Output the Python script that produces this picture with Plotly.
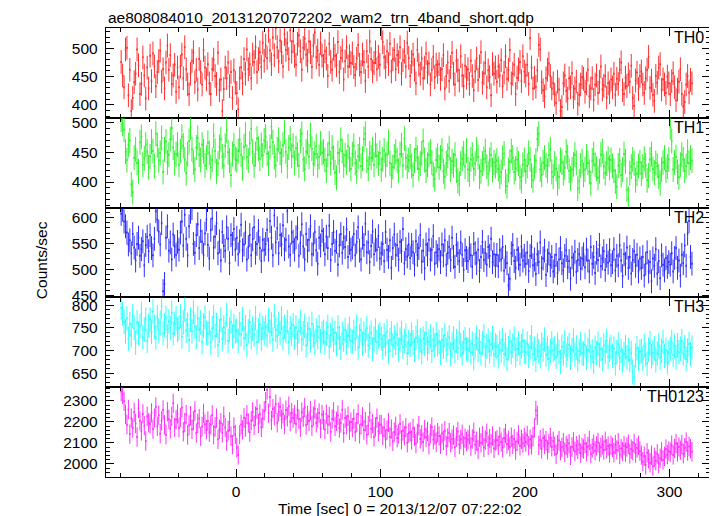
import numpy as np
import plotly.graph_objects as go

TITLE = "ae808084010_20131207072202_wam2_trn_4band_short.qdp"
X_TITLE = "Time [sec] 0 = 2013/12/07 07:22:02"
Y_TITLE = "Counts/sec"

T_START = -79.5   # centre of first bin (sec)
BIN = 1.0         # bin width (sec)

band_names = ["TH0", "TH1", "TH2", "TH3", "TH0123"]
band_colors = ["#ff0000", "#00f000", "#0000ff", "#00ffff", "#ff00ff"]
band_errors = [21, 21, 23, 27, 46]
y_ranges = [[377, 536], [357, 508], [446, 619], [619, 817], [1938, 2365]]
y_dticks = [50, 50, 50, 50, 100]
y_minor = [10, 10, 10, 10, 20]

th0 = [
    476, 452, 431, 498, 501, 417, 462, 389, 412, 440, 455, 498, 470, 419, 437, 484, 452, 411, 466, 429,
    487, 442, 491, 468, 433, 458, 477, 496, 441, 463, 429, 475, 505, 462, 488, 437, 452, 471, 423, 466,
    431, 468, 489, 447, 502, 463, 436, 419, 455, 478, 493, 440, 462, 427, 481, 458, 436, 497, 466, 445,
    472, 438, 419, 463, 480, 451, 437, 492, 426, 445, 389, 428, 466, 447, 475, 433, 458, 412, 461, 439,
    421, 392, 447, 466, 438, 481, 455, 498, 463, 472, 447, 489, 476, 502, 458, 481, 493, 467, 510, 478,
    505, 483, 531, 496, 472, 519, 488, 536, 502, 477, 514, 493, 468, 525, 497, 509, 481, 532, 494, 512,
    486, 471, 508, 523, 495, 462, 501, 517, 489, 478, 512, 493, 467, 505, 528, 484, 496, 471, 509, 487,
    469, 495, 482, 451, 508, 476, 462, 499, 487, 470, 511, 458, 483, 496, 445, 477, 502, 468, 486, 474,
    491, 467, 453, 482, 506, 471, 458, 489, 476, 442, 495, 468, 512, 481, 459, 474, 493, 463, 485, 471,
    536, 511, 484, 467, 495, 472, 508, 459, 481, 497, 463, 488, 476, 502, 455, 479, 494, 468, 510, 483,
    451, 476, 489, 462, 438, 497, 471, 455, 482, 447, 466, 491, 458, 473, 436, 462, 485, 449, 471, 458,
    472, 446, 463, 488, 429, 451, 475, 442, 467, 492, 455, 436, 478, 461, 443, 486, 452, 433, 469, 448,
    463, 437, 478, 451, 426, 459, 482, 444, 468, 493, 439, 456, 474, 431, 461, 449, 417, 472, 455, 466,
    441, 468, 452, 479, 433, 457, 486, 446, 462, 497, 438, 455, 471, 419, 448, 463, 476, 442, 486, 459,
    452, 471, 437, 518, 466, 429, 448, 432, 461, 506, 498, 440, 426, 415, 447, 462, 473, 451, 429, 438,
    418, 403, 441, 427, 389, 396, 438, 452, 425, 411, 447, 431, 456, 414, 429, 441, 402, 418, 436, 449,
    446, 423, 438, 462, 415, 429, 447, 409, 436, 452, 421, 441, 468, 427, 434, 451, 413, 438, 422, 445,
    431, 455, 418, 446, 437, 462, 475, 426, 419, 448, 433, 454, 441, 469, 412, 398, 443, 457, 428, 451,
    459, 436, 421, 447, 462, 485, 430, 443, 418, 407, 451, 439, 466, 472, 427, 445, 436, 421, 450, 438,
    419, 442, 456, 431, 408, 427, 441, 463, 419, 397, 405, 436, 451, 422, 444, 438,
]

th1 = [
    505, 498, 488, 451, 437, 462, 470, 396, 383, 441, 455, 432, 418, 467, 476, 429, 440, 463, 451, 425,
    443, 468, 452, 427, 481, 462, 436, 449, 474, 417, 455, 468, 433, 446, 472, 491, 458, 432, 447, 463,
    429, 452, 476, 461, 438, 415, 447, 469, 492, 455, 433, 421, 458, 474, 446, 437, 463, 452, 428, 441,
    466, 449, 425, 437, 478, 452, 418, 431, 459, 472, 443, 428, 461, 487, 450, 436, 412, 447, 462, 439,
    437, 452, 471, 446, 423, 459, 480, 442, 436, 465, 489, 451, 428, 447, 473, 456, 439, 462, 445, 470,
    476, 448, 431, 459, 493, 467, 442, 428, 455, 471, 449, 436, 462, 484, 451, 427, 458, 473, 444, 461,
    432, 457, 446, 428, 469, 481, 438, 422, 451, 466, 443, 479, 456, 431, 447, 460, 428, 442, 465, 449,
    451, 437, 419, 446, 465, 432, 458, 441, 416, 407, 449, 436, 471, 452, 428, 445, 433, 460, 438, 422,
    447, 461, 432, 418, 443, 455, 427, 439, 472, 481, 436, 422, 448, 441, 455, 429, 462, 444, 431, 449,
    421, 438, 453, 429, 446, 467, 432, 411, 425, 443, 451, 436, 419, 447, 462, 428, 473, 441, 426, 437,
    443, 427, 412, 436, 455, 441, 422, 431, 448, 469, 437, 419, 429, 446, 451, 433, 412, 405, 437, 444,
    425, 441, 453, 418, 409, 432, 444, 457, 421, 435, 428, 446, 419, 402, 397, 431, 439, 448, 426, 453,
    421, 413, 438, 446, 422, 431, 455, 442, 409, 418, 431, 439, 452, 426, 414, 437, 446, 420, 433, 427,
    436, 422, 409, 417, 441, 448, 401, 393, 420, 434, 452, 441, 417, 423, 438, 431, 408, 402, 429, 437,
    418, 427, 449, 438, 411, 403, 425, 436, 472, 481, 421, 412, 433, 441, 428, 419, 446, 455, 417, 409,
    431, 422, 398, 409, 437, 433, 415, 424, 451, 442, 419, 406, 421, 430, 446, 432, 389, 401, 428, 435,
    412, 421, 443, 432, 417, 398, 436, 447, 429, 422, 407, 418, 446, 452, 426, 415, 431, 439, 424, 437,
    427, 419, 401, 392, 428, 436, 412, 421, 447, 435, 387, 372, 415, 426, 438, 431, 403, 414, 427, 433,
    414, 426, 439, 428, 403, 411, 438, 447, 422, 416, 432, 427, 409, 398, 421, 433, 441, 419, 426, 438,
    492, 469, 421, 433, 442, 417, 408, 429, 446, 438, 419, 427, 451, 432, 441, 436,
]

th2 = [
    607, 615, 592, 583, 571, 548, 556, 531, 568, 542, 517, 549, 561, 526, 539, 554, 508, 547, 563, 535,
    566, 541, 527, 559, 612, 596, 573, 548, 589, 458, 472, 561, 583, 536, 552, 519, 567, 544, 528, 553,
    538, 571, 592, 546, 605, 559, 527, 583, 611, 618, 549, 532, 566, 587, 541, 574, 553, 528, 569, 596,
    547, 521, 576, 598, 542, 563, 589, 531, 554, 517, 572, 545, 536, 581, 559, 512, 566, 549, 578, 538,
    561, 529, 554, 586, 537, 548, 571, 519, 543, 566, 527, 558, 581, 532, 549, 574, 541, 516, 557, 538,
    549, 576, 538, 593, 561, 527, 604, 552, 579, 531, 566, 548, 585, 539, 557, 612, 544, 528, 571, 553,
    538, 562, 579, 526, 551, 587, 544, 519, 568, 536, 557, 583, 529, 548, 572, 537, 511, 561, 546, 574,
    557, 529, 563, 541, 584, 518, 549, 572, 536, 553, 509, 546, 568, 532, 561, 543, 577, 524, 551, 538,
    542, 568, 527, 553, 581, 536, 519, 561, 547, 588, 533, 552, 514, 545, 573, 529, 556, 538, 564, 521,
    531, 549, 516, 572, 538, 524, 556, 503, 541, 567, 528, 547, 519, 553, 536, 578, 512, 539, 525, 548,
    522, 547, 533, 509, 554, 528, 541, 566, 515, 536, 502, 548, 529, 557, 519, 538, 564, 511, 533, 526,
    539, 514, 548, 527, 556, 509, 532, 543, 518, 561, 524, 505, 547, 531, 516, 552, 528, 499, 537, 522,
    516, 541, 527, 505, 549, 531, 512, 538, 497, 524, 553, 518, 532, 509, 543, 526, 559, 514, 529, 507,
    528, 506, 537, 519, 543, 498, 524, 512, 469, 482, 531, 547, 516, 503, 538, 521, 509, 544, 517, 526,
    511, 532, 497, 526, 543, 508, 519, 491, 529, 514, 552, 503, 521, 536, 489, 517, 531, 508, 524, 496,
    507, 528, 493, 519, 541, 512, 498, 526, 537, 504, 516, 482, 523, 509, 534, 495, 518, 529, 502, 521,
    529, 504, 538, 517, 496, 543, 511, 524, 493, 532, 518, 547, 506, 521, 535, 499, 526, 513, 537, 508,
    514, 539, 498, 526, 508, 546, 517, 487, 529, 511, 542, 503, 524, 492, 518, 535, 507, 528, 496, 521,
    503, 524, 488, 511, 533, 496, 514, 477, 521, 507, 539, 492, 516, 483, 527, 509, 498, 522, 505, 514,
    509, 531, 496, 522, 541, 503, 517, 488, 528, 512, 546, 507, 569, 593, 524, 511,
]

th3 = [
    794, 781, 763, 742, 771, 726, 758, 735, 776, 749, 717, 762, 738, 753, 781, 729, 746, 768, 721, 755,
    768, 741, 786, 752, 729, 773, 744, 761, 797, 738, 756, 772, 731, 764, 749, 783, 737, 759, 771, 745,
    749, 776, 731, 762, 791, 744, 757, 723, 768, 742, 785, 753, 729, 771, 746, 762, 718, 755, 773, 739,
    737, 761, 718, 749, 774, 732, 756, 712, 743, 768, 725, 751, 739, 779, 721, 746, 763, 731, 754, 742,
    744, 721, 758, 736, 769, 727, 751, 712, 742, 763, 729, 748, 735, 771, 718, 744, 757, 726, 749, 738,
    752, 733, 767, 741, 758, 724, 776, 745, 731, 759, 739, 771, 727, 752, 743, 763, 718, 749, 737, 756,
    728, 751, 716, 743, 762, 725, 738, 754, 711, 736, 748, 722, 759, 733, 717, 744, 729, 752, 721, 738,
    741, 718, 737, 752, 709, 734, 746, 723, 739, 714, 751, 728, 706, 737, 724, 745, 718, 733, 748, 721,
    719, 741, 726, 753, 706, 732, 745, 715, 737, 722, 749, 711, 728, 739, 703, 726, 744, 718, 731, 736,
    726, 708, 733, 714, 742, 697, 723, 738, 711, 729, 717, 735, 702, 724, 739, 708, 721, 733, 694, 718,
    712, 735, 718, 701, 728, 742, 707, 723, 696, 726, 715, 738, 704, 719, 731, 699, 724, 711, 736, 714,
    719, 695, 723, 708, 734, 702, 715, 729, 692, 713, 727, 698, 721, 706, 739, 711, 694, 718, 725, 703,
    702, 723, 696, 715, 683, 712, 728, 701, 719, 694, 716, 731, 689, 709, 722, 698, 713, 727, 691, 711,
    708, 687, 717, 700, 723, 692, 712, 681, 705, 719, 696, 711, 726, 689, 703, 716, 694, 709, 721, 698,
    696, 715, 688, 707, 729, 693, 704, 680, 711, 698, 687, 713, 702, 724, 691, 706, 682, 699, 716, 701,
    705, 686, 713, 697, 675, 708, 693, 718, 689, 704, 712, 684, 701, 722, 691, 707, 679, 698, 714, 694,
    693, 712, 684, 701, 720, 687, 698, 675, 706, 694, 715, 689, 703, 681, 711, 697, 722, 686, 702, 708,
    688, 704, 671, 696, 713, 683, 699, 678, 692, 707, 685, 701, 679, 694, 652, 641, 689, 705, 682, 697,
    699, 682, 710, 691, 671, 702, 716, 687, 695, 705, 678, 693, 711, 684, 699, 719, 688, 701, 674, 696,
    703, 718, 690, 709, 685, 712, 696, 704, 721, 693, 707, 681, 699, 714, 692, 706,
]

th0123 = [
    2345, 2331, 2298, 2236, 2187, 2259, 2142, 2218, 2171, 2246, 2193, 2128, 2264, 2205, 2157, 2238, 2182, 2109, 2227, 2196,
    2191, 2243, 2166, 2218, 2271, 2179, 2232, 2144, 2205, 2257, 2186, 2139, 2248, 2213, 2167, 2226, 2289, 2174, 2211, 2238,
    2172, 2221, 2268, 2153, 2197, 2235, 2138, 2184, 2229, 2165, 2206, 2252, 2147, 2193, 2216, 2131, 2178, 2241, 2189, 2163,
    2204, 2151, 2186, 2233, 2139, 2176, 2218, 2117, 2165, 2196, 2148, 2227, 2173, 2109, 2158, 2201, 2132, 2092, 2176, 2141,
    2078, 2043, 2139, 2188, 2162, 2219, 2176, 2234, 2195, 2151, 2206, 2248, 2183, 2227, 2261, 2192, 2238, 2174, 2216, 2253,
    2296, 2352, 2241, 2318, 2207, 2263, 2229, 2284, 2196, 2247, 2271, 2213, 2239, 2188, 2256, 2224, 2275, 2201, 2243, 2218,
    2235, 2191, 2258, 2213, 2174, 2246, 2222, 2268, 2185, 2231, 2204, 2253, 2179, 2227, 2261, 2196, 2219, 2242, 2168, 2235,
    2209, 2164, 2237, 2188, 2226, 2153, 2214, 2248, 2179, 2203, 2232, 2171, 2195, 2258, 2147, 2218, 2186, 2227, 2161, 2199,
    2173, 2215, 2152, 2196, 2237, 2143, 2188, 2224, 2161, 2201, 2139, 2183, 2245, 2168, 2192, 2129, 2176, 2218, 2154, 2187,
    2188, 2136, 2172, 2119, 2161, 2197, 2128, 2166, 2108, 2152, 2179, 2124, 2143, 2191, 2115, 2158, 2134, 2173, 2101, 2147,
    2152, 2114, 2169, 2131, 2097, 2146, 2182, 2119, 2138, 2104, 2163, 2127, 2155, 2091, 2143, 2176, 2116, 2138, 2102, 2149,
    2133, 2094, 2145, 2112, 2158, 2086, 2124, 2149, 2101, 2118, 2137, 2079, 2128, 2154, 2093, 2116, 2141, 2087, 2122, 2107,
    2116, 2138, 2083, 2119, 2151, 2092, 2108, 2069, 2127, 2101, 2134, 2078, 2113, 2146, 2089, 2121, 2097, 2132, 2074, 2109,
    2114, 2088, 2131, 2104, 2079, 2124, 2145, 2095, 2112, 2081, 2128, 2093, 2119, 2066, 2107, 2138, 2086, 2117, 2099, 2126,
    2104, 2136, 2087, 2118, 2092, 2129, 2172, 2254, 2231, 2089, 2115, 2071, 2124, 2093, 2111, 2067, 2098, 2126, 2082, 2108,
    2084, 2046, 2092, 2111, 2063, 2079, 2102, 2055, 2088, 2074, 2097, 2041, 2081, 2106, 2059, 2087, 2069, 2093, 2052, 2078,
    2071, 2097, 2058, 2083, 2112, 2049, 2076, 2094, 2063, 2086, 2102, 2057, 2079, 2091, 2066, 2108, 2072, 2085, 2053, 2089,
    2079, 2054, 2092, 2066, 2101, 2045, 2073, 2059, 2087, 2056, 2081, 2094, 2048, 2071, 2063, 2098, 2052, 2076, 2089, 2061,
    2042, 2011, 2037, 1996, 2053, 2024, 2006, 2041, 1989, 2032, 2015, 2048, 2002, 2027, 2058, 2019, 2036, 2071, 2044, 2062,
    2056, 2089, 2043, 2074, 2097, 2058, 2081, 2065, 2092, 2049, 2077, 2104, 2061, 2083, 2072, 2058,
]

series = [th0, th1, th2, th3, th0123]
n_bins = len(th0)
times = T_START + BIN * np.arange(n_bins)

FONT = "Liberation Sans, Arial, Helvetica, sans-serif"
fig = go.Figure()
N = len(series)

for i, (vals, col, err) in enumerate(zip(series, band_colors, band_errors)):
    sfx = "" if i == 0 else str(i + 1)
    fig.add_trace(go.Scatter(
        x=times[:len(vals)], y=vals, mode="markers",
        marker=dict(size=1, color=col),
        error_y=dict(type="constant", value=err, width=0, thickness=1, color=col),
        error_x=dict(type="constant", value=BIN / 2, width=0, thickness=2, color=col),
        opacity=0.82,
        xaxis="x" + sfx, yaxis="y" + sfx, showlegend=False, hoverinfo="skip",
    ))

axis_common = dict(
    showline=True, linecolor="black", linewidth=1.4, mirror="allticks",
    ticks="inside", ticklen=8, tickwidth=1, tickcolor="black",
    showgrid=False, zeroline=False, automargin=False,
    tickfont=dict(family=FONT, size=15.5, color="black"),
)

# The page body has an 8 px default margin, so the figure is sized to fit inside it.
layout = dict(
    width=709, height=508,
    margin=dict(l=98, r=7, t=20, b=39, autoexpand=False),
    paper_bgcolor="white", plot_bgcolor="white",
    font=dict(family=FONT, color="black"),
    showlegend=False,
)

for i in range(N):
    sfx = "" if i == 0 else str(i + 1)
    top = 1 - i / N
    bot = 1 - (i + 1) / N
    xa = dict(axis_common)
    xa.update(
        domain=[0, 1], anchor="y" + sfx, range=[-90, 328],
        tick0=0, dtick=100,
        minor=dict(ticks="inside", ticklen=4, dtick=20, tick0=0, tickcolor="black", showgrid=False),
        showticklabels=(i == N - 1),
    )
    if i > 0:
        xa["matches"] = "x"
    ya = dict(axis_common)
    ya.update(
        domain=[bot, top], anchor="x" + sfx, range=y_ranges[i],
        tick0=0, dtick=y_dticks[i], ticklabelstandoff=4,
        minor=dict(ticks="inside", ticklen=4, dtick=y_minor[i], tick0=0, tickcolor="black", showgrid=False),
    )
    layout["xaxis" + sfx] = xa
    layout["yaxis" + sfx] = ya

annotations = []
for i, name in enumerate(band_names):
    sfx = "" if i == 0 else str(i + 1)
    annotations.append(dict(
        text=name, xref="paper", x=1, xanchor="right", xshift=-4,
        yref="y" + sfx + " domain", y=1, yanchor="top", yshift=1,
        showarrow=False, font=dict(family=FONT, size=16, color="black"),
    ))

annotations.append(dict(
    text=TITLE, xref="paper", x=0, xanchor="left", yref="paper", y=1,
    yanchor="bottom", yshift=0, showarrow=False,
    font=dict(family=FONT, size=15.5, color="black"),
))
annotations.append(dict(
    text=X_TITLE, xref="paper", x=0.487, xanchor="center", yref="paper", y=0,
    yanchor="middle", yshift=-31, showarrow=False,
    font=dict(family=FONT, size=15.5, color="black"),
))
annotations.append(dict(
    text=Y_TITLE, xref="paper", x=0, xanchor="center", xshift=-65,
    yref="paper", y=0.483, yanchor="middle", textangle=-90, showarrow=False,
    font=dict(family=FONT, size=15.5, color="black"),
))
layout["annotations"] = annotations

fig.update_layout(**layout)
fig.write_html("out.html")
